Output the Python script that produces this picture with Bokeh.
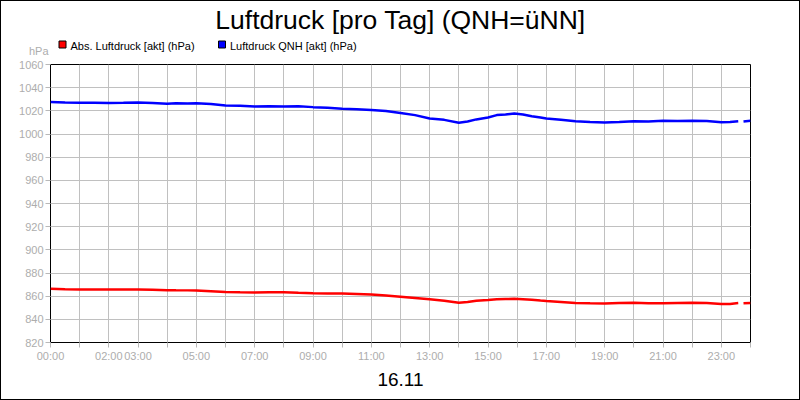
from bokeh.plotting import figure
from bokeh.models import Range1d, FixedTicker, Label, ColumnDataSource
from bokeh.embed import file_html
from bokeh.resources import INLINE
import numpy as np

# ---- data ----
hours = [0, 0.5, 1, 1.5, 2, 2.5, 3, 3.5, 4, 4.3, 4.7, 5, 5.5, 6, 6.5, 7, 7.5, 8, 8.5,
         9, 9.5, 10, 10.5, 11, 11.5, 12, 12.5, 13, 13.5, 14, 14.3, 14.6, 15, 15.3,
         15.6, 15.9, 16.2, 16.5, 16.8, 17, 17.5, 18, 18.5, 19, 19.5, 20, 20.5, 21,
         21.5, 22, 22.5, 23, 23.3, 23.58, 23.67, 23.76, 24]
qnh = [1027.6, 1027.2, 1026.9, 1027.0, 1026.8, 1026.9, 1027.1, 1026.8, 1026.2, 1026.6,
       1026.3, 1026.5, 1025.9, 1024.6, 1024.4, 1023.8, 1024.0, 1023.8, 1024.0, 1023.2,
       1022.6, 1021.8, 1021.4, 1020.8, 1019.8, 1018.2, 1016.3, 1013.4, 1012.2, 1009.8,
       1010.8, 1012.6, 1014.3, 1016.3, 1016.9, 1017.6, 1016.9, 1015.4, 1014.2, 1013.3,
       1012.3, 1011.0, 1010.4, 1009.9, 1010.3, 1011.0, 1010.8, 1011.4, 1011.2, 1011.5,
       1011.2, 1010.1, 1010.3, 1011.0, None, 1010.8, 1011.5]
abs_p = [866.3, 866.0, 865.8, 865.8, 865.7, 865.7, 865.8, 865.6, 865.2, 865.1,
         865.0, 864.9, 864.3, 863.7, 863.4, 863.2, 863.3, 863.3, 862.9, 862.6,
         862.4, 862.2, 861.9, 861.5, 860.6, 859.5, 858.4, 857.3, 856.0, 854.4,
         855.0, 856.0, 856.7, 857.3, 857.6, 857.7, 857.4, 857.0, 856.3, 855.9,
         855.0, 854.1, 853.8, 853.7, 854.1, 854.3, 853.8, 853.8, 854.1, 854.3,
         854.0, 853.3, 853.3, 854.0, None, 853.9, 854.2]
shown_labels = ["00:00", "02:00", "03:00", "05:00", "07:00", "09:00", "11:00",
                "13:00", "15:00", "17:00", "19:00", "21:00", "23:00"]
y_ticks = list(range(820, 1061, 20))
title_text = "Luftdruck [pro Tag] (QNH=üNN]"
legend_labels = ["Abs. Luftdruck [akt] (hPa)", "Luftdruck QNH [akt] (hPa)"]
legend_colors = ["#ff0000", "#0000ff"]
unit_text = "hPa"
date_text = "16.11"

FONT = "Liberation Sans"
GRAY = "#adadad"
W = 800
BORDER = "1px solid black"


def blank_fig(h, y_top, styles):
    # canvas pixels map 1:1 onto page pixels (canvas starts at page x=1)
    f = figure(width=W, height=h, output_backend="svg", toolbar_location=None,
               x_range=Range1d(1, 1 + W), y_range=Range1d(y_top + h, y_top),
               min_border=0, min_border_left=0, min_border_right=0,
               min_border_top=0, min_border_bottom=0, styles=styles)
    f.axis.visible = False
    f.grid.visible = False
    f.outline_line_color = None
    f.background_fill_color = "white"
    f.border_fill_color = "white"
    return f


# ---- header (page y 0..56) ----
head = blank_fig(56, 1, {"border-top": BORDER, "border-left": BORDER,
                         "border-right": BORDER, "box-sizing": "border-box"})
head.add_layout(Label(x=400, y=19.5, text=title_text, text_align="center",
                      text_baseline="alphabetic", text_font=FONT,
                      text_font_size="26.5px", text_color="black"))
head.add_layout(Label(x=48, y=50, text=unit_text, text_align="right",
                      text_baseline="alphabetic", text_font=FONT,
                      text_font_size="11px", text_color=GRAY))
leg_x = [58.5, 218]
head.quad(left=[v for v in leg_x], right=[v + 7 for v in leg_x],
          top=[40.5, 40.5], bottom=[47.5, 47.5], fill_color=legend_colors,
          line_color="black", line_width=1)
for lx, lab in zip(leg_x, legend_labels):
    head.add_layout(Label(x=lx + 11.5, y=45.5, text=lab, text_align="left",
                          text_baseline="alphabetic", text_font=FONT,
                          text_font_size="11px", text_color="black"))

# ---- main chart (page y 56..364) ----
p = figure(width=W, height=308, output_backend="svg", toolbar_location=None,
           x_range=Range1d(0, 24), y_range=Range1d(820, 1060),
           min_border_left=49, min_border_right=51, min_border_top=8,
           min_border_bottom=22,
           styles={"border-left": BORDER, "border-right": BORDER,
                   "box-sizing": "border-box"})
p.background_fill_color = "white"
p.border_fill_color = "white"
p.outline_line_color = "black"
p.outline_line_width = 1


def nz(v):
    return np.nan if v is None else v


src = ColumnDataSource(dict(x=hours, qnh=[nz(v) for v in qnh], ab=[nz(v) for v in abs_p]))
p.line("x", "qnh", source=src, line_color="#0000ff", line_width=2.5)
p.line("x", "ab", source=src, line_color="#ff0000", line_width=2.5)

tick_hours = list(range(0, 25))
p.xaxis.ticker = FixedTicker(ticks=tick_hours)
overrides = {}
for h in tick_hours:
    lab = "%02d:00" % h
    overrides[h] = lab if lab in shown_labels else ""
p.xaxis.major_label_overrides = overrides
p.yaxis.ticker = FixedTicker(ticks=y_ticks)
for ax in (p.xaxis[0], p.yaxis[0]):
    ax.axis_line_color = None
    ax.major_tick_line_color = "#b8b8b8"
    ax.major_tick_out = 5
    ax.major_tick_in = 0
    ax.minor_tick_line_color = None
    ax.major_label_text_color = GRAY
    ax.major_label_text_font = FONT
    ax.major_label_text_font_size = "11px"
    ax.major_label_standoff = 2
p.xgrid.grid_line_color = "#c0c0c0"
p.ygrid.grid_line_color = "#c0c0c0"

# ---- footer (page y 364..400) ----
foot = blank_fig(36, 364, {"border-bottom": BORDER, "border-left": BORDER,
                           "border-right": BORDER, "box-sizing": "border-box"})
foot.add_layout(Label(x=400, y=379, text=date_text, text_align="center",
                      text_baseline="alphabetic", text_font=FONT,
                      text_font_size="19px", text_color="black"))

open("out.html", "w").write(file_html([head, p, foot], INLINE))
